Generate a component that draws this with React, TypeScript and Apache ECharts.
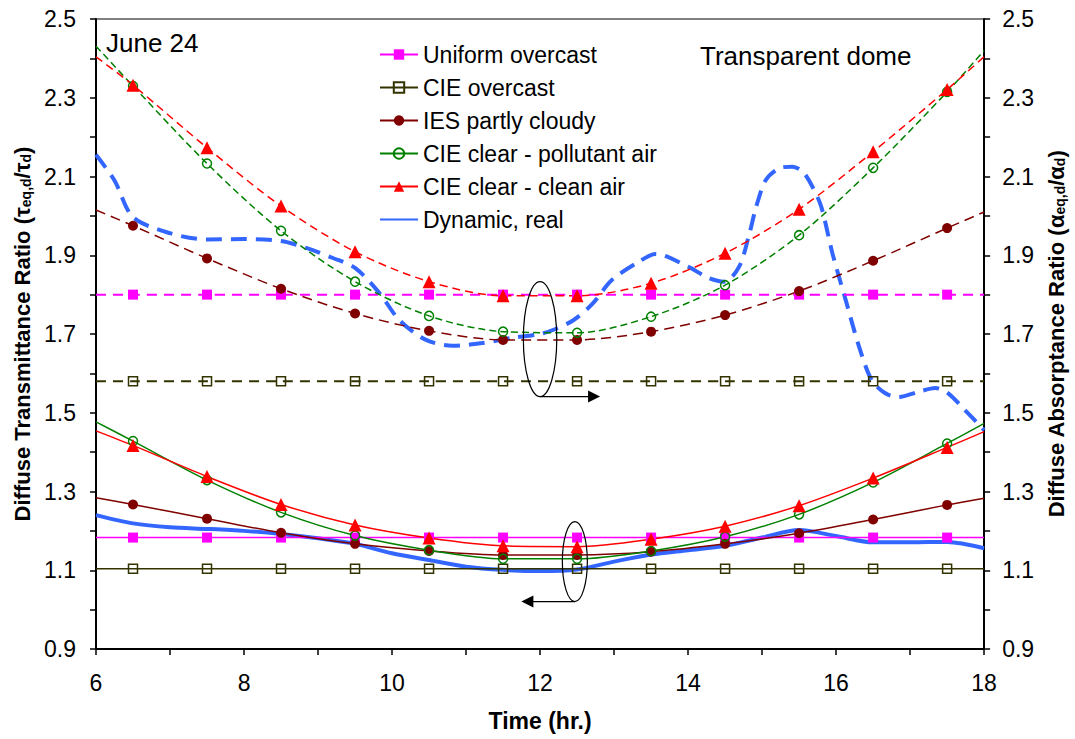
import React, { useEffect, useRef } from "react";
import * as echarts from "echarts";

// ---- data ----
const hours = [6, 6.5, 7.5, 8.5, 9.5, 10.5, 11.5, 12.5, 13.5, 14.5, 15.5, 16.5, 17.5, 18];

// Diffuse transmittance ratio (left axis, solid lines)
const uniformT = [1.183, 1.183, 1.183, 1.183, 1.183, 1.183, 1.183, 1.183, 1.183, 1.183, 1.183, 1.183, 1.183, 1.183];
const cieOvercastT = [1.104, 1.104, 1.104, 1.104, 1.104, 1.104, 1.104, 1.104, 1.104, 1.104, 1.104, 1.104, 1.104, 1.104];
const iesT = [1.284, 1.267, 1.231, 1.195, 1.167, 1.149, 1.139, 1.139, 1.147, 1.167, 1.194, 1.229, 1.266, 1.283];
const pollutantT = [1.477, 1.428, 1.329, 1.247, 1.188, 1.151, 1.129, 1.129, 1.149, 1.185, 1.242, 1.323, 1.422, 1.473];
const cleanT = [1.454, 1.417, 1.338, 1.267, 1.215, 1.182, 1.162, 1.160, 1.179, 1.212, 1.264, 1.334, 1.412, 1.452];

const dynHoursT = [6, 6.5, 7, 7.5, 8, 8.5, 9, 9.5, 10, 10.5, 11, 11.5, 12, 12.5, 13, 13.5, 14, 14.5, 15, 15.5, 16, 16.5, 17, 17.5, 18];
const dynT = [1.240, 1.219, 1.209, 1.205, 1.200, 1.192, 1.181, 1.167, 1.143, 1.126, 1.109, 1.101, 1.098, 1.102, 1.122, 1.140, 1.151, 1.162, 1.183, 1.202, 1.187, 1.171, 1.171, 1.172, 1.156];

// Diffuse absorptance ratio (right axis, dashed lines)
const uniformA = [1.80, 1.80, 1.80, 1.80, 1.80, 1.80, 1.80, 1.80, 1.80, 1.80, 1.80, 1.80, 1.80, 1.80];
const cieOvercastA = [1.58, 1.58, 1.58, 1.58, 1.58, 1.58, 1.58, 1.58, 1.58, 1.58, 1.58, 1.58, 1.58, 1.58];
const iesA = [2.015, 1.975, 1.892, 1.815, 1.752, 1.708, 1.685, 1.685, 1.706, 1.748, 1.809, 1.886, 1.969, 2.010];
const pollutantA = [2.431, 2.330, 2.133, 1.962, 1.833, 1.746, 1.706, 1.703, 1.744, 1.824, 1.951, 2.122, 2.315, 2.420];
const cleanA = [2.404, 2.332, 2.173, 2.025, 1.909, 1.833, 1.797, 1.797, 1.829, 1.905, 2.017, 2.163, 2.321, 2.404];

const dynHoursA = [6, 6.25, 6.5, 7, 7.5, 8, 8.5, 8.85, 9.2, 9.5, 9.83, 10.1, 10.46, 10.82, 11.22, 11.62, 12.0, 12.2, 12.45, 12.7, 12.97, 13.33, 13.56, 14.0, 14.28, 14.49, 14.69, 14.83, 14.92, 15.05, 15.23, 15.41, 15.55, 15.68, 15.8, 15.95, 16.13, 16.31, 16.48, 16.66, 16.84, 17.11, 17.34, 17.51, 17.74, 18];
const dynA = [2.155, 2.09, 1.997, 1.956, 1.940, 1.941, 1.936, 1.918, 1.893, 1.868, 1.804, 1.735, 1.685, 1.670, 1.677, 1.690, 1.700, 1.712, 1.735, 1.775, 1.837, 1.883, 1.903, 1.871, 1.842, 1.833, 1.871, 1.956, 2.023, 2.091, 2.121, 2.125, 2.112, 2.074, 2.023, 1.905, 1.786, 1.668, 1.583, 1.550, 1.540, 1.553, 1.563, 1.550, 1.507, 1.456];

const legendNames = ["Uniform overcast", "CIE overcast", "IES partly cloudy", "CIE clear - pollutant air", "CIE clear - clean air", "Dynamic, real"];

// annotation anchors (data coordinates)
const ovalRight = { x: 12, y: 1.687 };
const ovalLeft = { x: 12.47, y: 1.122 };

const FONT = 'Arial, "Liberation Sans", sans-serif';

function withEnds(vals: number[]) {
  return hours.map((h, i) =>
    i === 0 || i === hours.length - 1
      ? { value: [h, vals[i]], symbol: "none" }
      : { value: [h, vals[i]] }
  );
}

function pairs(xs: number[], ys: number[]) {
  return xs.map((x, i) => [x, ys[i]]);
}

type Sty = {
  color: string;
  symbol: string;
  size: number;
  hollow?: boolean;
};

const styles: Sty[] = [
  { color: "#FF00FF", symbol: "rect", size: 10 },
  { color: "#333300", symbol: "rect", size: 9, hollow: true },
  { color: "#800000", symbol: "circle", size: 10 },
  { color: "#008000", symbol: "circle", size: 9, hollow: true },
  { color: "#FF0000", symbol: "triangle", size: 13 },
];

function markerSeries(
  name: string,
  vals: number[],
  st: Sty,
  yAxisIndex: number,
  dash: number[] | null,
  width: number
) {
  return {
    name,
    type: "line",
    yAxisIndex,
    data: withEnds(vals),
    smooth: 0.3,
    symbol: st.symbol,
    symbolSize: st.size,
    showSymbol: true,
    lineStyle: { color: st.color, width, type: dash ? dash : "solid" },
    itemStyle: st.hollow
      ? { color: "rgba(0,0,0,0)", borderColor: st.color, borderWidth: 1.5 }
      : { color: st.color },
    emphasis: { disabled: true },
  };
}

export default function App() {
  const ref = useRef<HTMLDivElement>(null);

  useEffect(() => {
    document.body.style.margin = "0";
    const chart = echarts.init(ref.current!, null, { renderer: "svg" });

    const yLabel = (v: number) => {
      const k = Math.round(v * 10);
      return k % 2 === 1 ? (k / 10).toFixed(1) : "";
    };

    const yAxisBase = {
      type: "value",
      min: 0.9,
      max: 2.5,
      interval: 0.1,
      splitLine: { show: false },
      axisLine: { show: true, lineStyle: { color: "#000", width: 2 } },
      axisTick: { show: true, inside: false, length: 6, lineStyle: { color: "#000", width: 1.5 } },
      axisLabel: { formatter: yLabel, color: "#000", fontSize: 23, fontFamily: FONT },
      nameLocation: "middle",
      nameRotate: 90,
    };

    const richTitle = {
      b: { fontSize: 22, fontWeight: "bold", color: "#000", fontFamily: FONT },
      g: { fontSize: 22, fontWeight: "bold", color: "#000", fontFamily: FONT },
      s: { fontSize: 14, fontWeight: "bold", color: "#000", fontFamily: FONT, verticalAlign: "bottom" },
    };

    const series: any[] = [
      // dashed: absorptance (right axis)
      {
        name: "Dynamic, real (abs)",
        type: "line",
        yAxisIndex: 1,
        data: pairs(dynHoursA, dynA),
        smooth: 0.3,
        symbol: "none",
        showSymbol: false,
        lineStyle: { color: "#3366FF", width: 4, type: [16, 9] },
        emphasis: { disabled: true },
      },
      markerSeries("Uniform overcast (abs)", uniformA, styles[0], 1, [10, 7], 2),
      markerSeries("CIE overcast (abs)", cieOvercastA, styles[1], 1, [10, 7], 2.2),
      markerSeries("IES partly cloudy (abs)", iesA, styles[2], 1, [10, 6], 1.5),
      markerSeries("CIE clear - pollutant air (abs)", pollutantA, styles[3], 1, [7, 4], 1.5),
      markerSeries("CIE clear - clean air (abs)", cleanA, styles[4], 1, [8, 5], 1.5),
      // solid: transmittance (left axis)
      {
        name: "Dynamic, real",
        type: "line",
        yAxisIndex: 0,
        data: pairs(dynHoursT, dynT),
        smooth: 0.3,
        symbol: "none",
        showSymbol: false,
        lineStyle: { color: "#3366FF", width: 4 },
        itemStyle: { color: "#3366FF" },
        emphasis: { disabled: true },
      },
      markerSeries("Uniform overcast", uniformT, styles[0], 0, null, 1.5),
      markerSeries("CIE overcast", cieOvercastT, styles[1], 0, null, 1.5),
      markerSeries("IES partly cloudy", iesT, styles[2], 0, null, 1.5),
      markerSeries("CIE clear - pollutant air", pollutantT, styles[3], 0, null, 1.5),
      markerSeries("CIE clear - clean air", cleanT, styles[4], 0, null, 1.5),
    ];

    chart.setOption({
      animation: false,
      backgroundColor: "#fff",
      textStyle: { fontFamily: FONT },
      grid: { left: 96, right: 90, top: 19, bottom: 90, show: true, borderColor: "#000", borderWidth: 1, backgroundColor: "transparent" },
      legend: {
        orient: "vertical",
        left: 374,
        top: 38,
        itemWidth: 38,
        itemHeight: 13,
        itemGap: 10,
        selectedMode: false,
        textStyle: { fontSize: 23, color: "#000", fontFamily: FONT, lineHeight: 23 },
        data: legendNames.map((n) =>
          n === "Dynamic, real" ? { name: n, itemStyle: { opacity: 0 } } : { name: n }
        ),
      },
      xAxis: {
        type: "value",
        min: 6,
        max: 18,
        interval: 1,
        splitLine: { show: false },
        axisLine: { show: true, lineStyle: { color: "#000", width: 2 } },
        axisTick: { show: true, length: 6, lineStyle: { color: "#000", width: 1.5 } },
        axisLabel: {
          formatter: (v: number) => (Math.round(v) % 2 === 0 ? String(Math.round(v)) : ""),
          color: "#000",
          fontSize: 23,
          fontFamily: FONT,
          margin: 22,
        },
        name: "Time (hr.)",
        nameLocation: "middle",
        nameGap: 60,
        nameTextStyle: { fontSize: 23, fontWeight: "bold", color: "#000", fontFamily: FONT },
      },
      yAxis: [
        {
          ...yAxisBase,
          position: "left",
          axisLabel: { ...yAxisBase.axisLabel, margin: 20 },
          name: "{b|Diffuse Transmittance Ratio (}{g|τ}{s|eq,d}{g|/τ}{s|d}{b|)}",
          nameGap: 60,
          nameTextStyle: { color: "#000", rich: richTitle },
        },
        {
          ...yAxisBase,
          position: "right",
          axisLabel: { ...yAxisBase.axisLabel, margin: 18 },
          name: "{b|Diffuse Absorptance Ratio (}{g|α}{s|eq,d}{g|/α}{s|d}{b|)}",
          nameGap: 58,
          nameTextStyle: { color: "#000", rich: richTitle },
        },
      ],
      series,
    });

    const p1 = chart.convertToPixel({ xAxisIndex: 0, yAxisIndex: 0 }, [ovalRight.x, ovalRight.y]) as number[];
    const p2 = chart.convertToPixel({ xAxisIndex: 0, yAxisIndex: 0 }, [ovalLeft.x, ovalLeft.y]) as number[];
    const r1 = { rx: 16.7, ry: 57.5 };
    const r2 = { rx: 12.5, ry: 40 };
    const b1 = p1[1] + r1.ry;
    const b2 = p2[1] + r2.ry;
    const tip1 = p1[0] + 60;
    const tip2 = p2[0] - 53.5;

    chart.setOption({
      graphic: [
        { type: "text", left: 106, top: 30, style: { text: "June 24", fontSize: 26, fill: "#000", fontFamily: FONT } },
        { type: "text", left: 700, top: 43, style: { text: "Transparent dome", fontSize: 26, fill: "#000", fontFamily: FONT } },
        { type: "ellipse", shape: { cx: p1[0], cy: p1[1], rx: r1.rx, ry: r1.ry }, style: { fill: "none", stroke: "#000", lineWidth: 1.2 }, z: 100 },
        { type: "line", shape: { x1: p1[0], y1: b1, x2: tip1 - 11, y2: b1 }, style: { stroke: "#000", lineWidth: 1.2 }, z: 100 },
        { type: "polygon", shape: { points: [[tip1, b1], [tip1 - 12, b1 - 6], [tip1 - 12, b1 + 6]] }, style: { fill: "#000" }, z: 100 },
        { type: "ellipse", shape: { cx: p2[0], cy: p2[1], rx: r2.rx, ry: r2.ry }, style: { fill: "none", stroke: "#000", lineWidth: 1.2 }, z: 100 },
        { type: "line", shape: { x1: p2[0], y1: b2, x2: tip2 + 11, y2: b2 }, style: { stroke: "#000", lineWidth: 1.2 }, z: 100 },
        { type: "polygon", shape: { points: [[tip2, b2], [tip2 + 12, b2 - 6], [tip2 + 12, b2 + 6]] }, style: { fill: "#000" }, z: 100 },
      ],
    });

    return () => chart.dispose();
  }, []);

  return <div ref={ref} style={{ width: 1075, height: 739 }} />;
}
